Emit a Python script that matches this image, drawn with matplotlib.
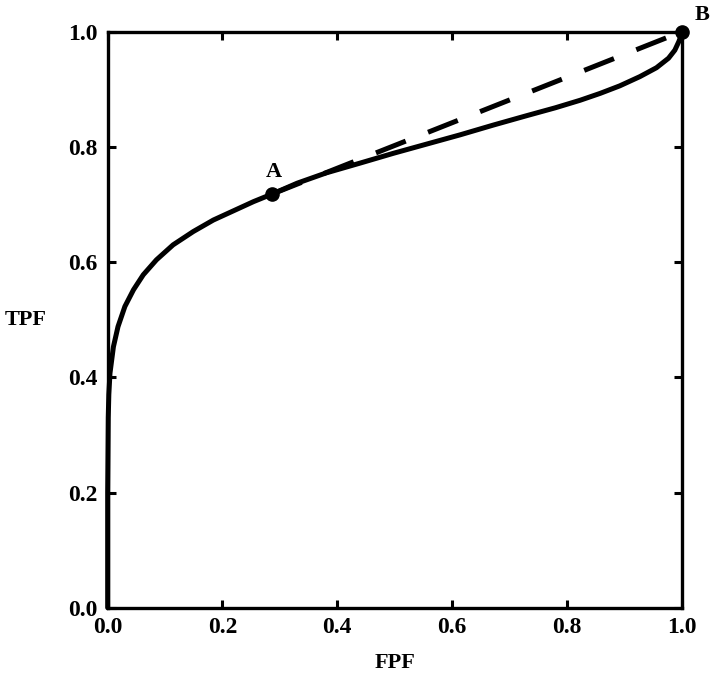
import matplotlib
matplotlib.use("Agg")
import matplotlib.pyplot as plt

# ROC curve points
fpf = [0.0, 0.0, 0.001, 0.002, 0.004, 0.010, 0.018, 0.030, 0.045, 0.062, 0.085, 0.114,
       0.149, 0.184, 0.219, 0.254, 0.286, 0.330, 0.381, 0.440, 0.498, 0.556, 0.614,
       0.672, 0.729, 0.780, 0.823, 0.858, 0.892, 0.927, 0.956, 0.977, 0.988, 0.995,
       0.9995, 1.0]
tpf = [0.0, 0.2, 0.33, 0.37, 0.407, 0.453, 0.488, 0.523, 0.552, 0.578, 0.604, 0.630,
       0.653, 0.673, 0.689, 0.705, 0.718, 0.737, 0.755, 0.772, 0.789, 0.805, 0.821,
       0.838, 0.854, 0.868, 0.881, 0.893, 0.906, 0.922, 0.9375, 0.954, 0.968, 0.983,
       0.995, 1.0]

# Points A and B, and the dashed segment joining them
pt_labels = ["A", "B"]
pt_x = [0.286, 1.0]
pt_y = [0.718, 1.0]

ticks = [0.0, 0.2, 0.4, 0.6, 0.8, 1.0]
tick_labels = ["0.0", "0.2", "0.4", "0.6", "0.8", "1.0"]

plt.rcParams['font.family'] = ['Liberation Serif', 'DejaVu Serif']
plt.rcParams['font.weight'] = 'bold'

fig = plt.figure(figsize=(7.14, 6.75), dpi=100)
ax = fig.add_axes([0.1508, 0.0997, 0.8040, 0.8533])

ax.plot(fpf, tpf, color='black', lw=3.6, solid_capstyle='round', solid_joinstyle='round',
        clip_on=False, zorder=3)
ax.plot(pt_x, pt_y, color='black', lw=3.6, dashes=(6.4, 4.8), clip_on=False, zorder=3)
ax.plot(pt_x, pt_y, 'o', color='black', ms=9.5, clip_on=False, zorder=4)

ax.text(0.29, 0.757, pt_labels[0], ha='center', va='center', fontsize=16, fontweight='bold')
ax.text(1.035, 1.029, pt_labels[1], ha='center', va='center', fontsize=16, fontweight='bold')

ax.set_xlim(0, 1)
ax.set_ylim(0, 1)
ax.set_xticks(ticks)
ax.set_xticklabels(tick_labels)
ax.set_yticks(ticks)
ax.set_yticklabels(tick_labels)
ax.tick_params(direction='in', length=5.5, width=2.2, top=True, right=True,
               labelsize=17, pad=7)
for lab in ax.get_xticklabels() + ax.get_yticklabels():
    lab.set_fontweight('bold')
for s in ax.spines.values():
    s.set_linewidth(2.4)

ax.set_xlabel("FPF", fontsize=16, fontweight='bold', va='center')
ax.xaxis.set_label_coords(0.5, -0.096)
ax.set_ylabel("TPF", fontsize=16, fontweight='bold', rotation=0, va='center', ha='center')
ax.yaxis.set_label_coords(-0.142, 0.5)

fig.savefig("out.png", dpi=100)
